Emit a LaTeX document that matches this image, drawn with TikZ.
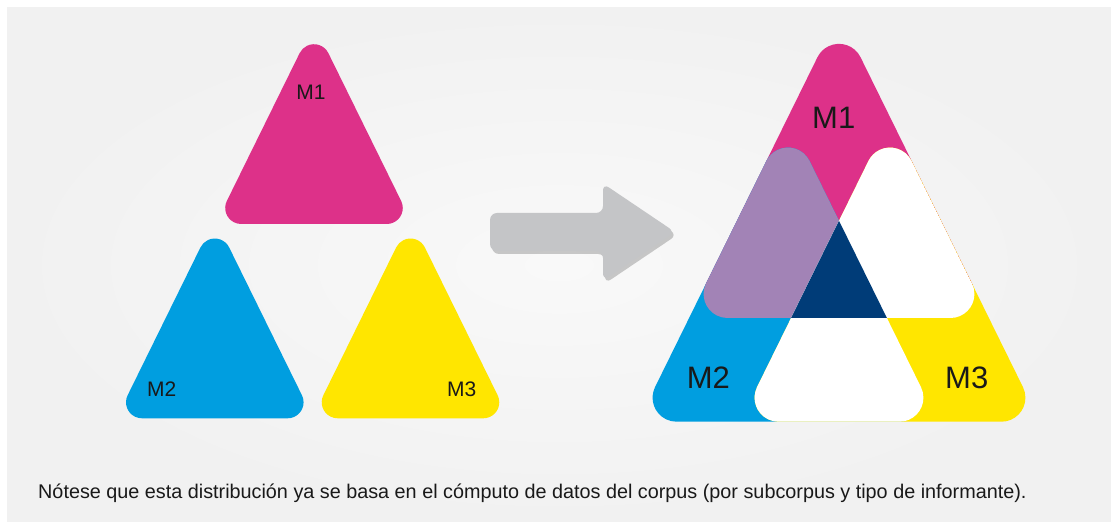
\documentclass[tikz,border=0pt]{standalone}
\usepackage{fontspec}
\setmainfont{Liberation Sans}
\usetikzlibrary{shadows}
\definecolor{mpink}{HTML}{DD3189}
\definecolor{mblue}{HTML}{009EE0}
\definecolor{myellow}{HTML}{FFE600}
\definecolor{mpurple}{HTML}{A283B6}
\definecolor{mnavy}{HTML}{003C78}
\definecolor{arrowgray}{HTML}{C4C5C7}
\definecolor{bgin}{HTML}{F9F9F9}
\definecolor{bgout}{HTML}{F1F1F1}
% rounded triangle: #1 options, #2 cx, #3 base y, #4 half base, #5 height, #6 radius
\newcommand\rtri[6]{%
  \pgfmathsetmacro\rtTh{atan(#5/#4)}%
  \pgfmathsetmacro\rtL{#6/tan(\rtTh/2)}%
  \pgfmathsetmacro\rtT{#6*tan(\rtTh)}%
  \pgfmathsetmacro\rtE{#4/cos(\rtTh)-\rtL-\rtT}%
  \pgfmathsetmacro\rtSx{#2-#4+\rtL}%
  \pgfmathsetmacro\rtB{2*#4-2*\rtL}%
  \path[#1] (\rtSx,#3) -- ++(\rtB,0)
    arc[start angle=-90,end angle=90-\rtTh,radius=#6]
    -- ++(180-\rtTh:\rtE)
    arc[start angle=90-\rtTh,end angle=90+\rtTh,radius=#6]
    -- ++(180+\rtTh:\rtE)
    arc[start angle=90+\rtTh,end angle=270,radius=#6] -- cycle;}
\tikzset{
  small/.style={font=\fontsize{21}{24}\selectfont, text=black!90, inner sep=0pt},
  big/.style={font=\fontsize{31}{36}\selectfont, text=black!90, inner sep=0pt},
  captxt/.style={font=\fontsize{19.8}{23}\selectfont, text=black!90, inner sep=0pt, anchor=base west}
}
\begin{document}
\begin{tikzpicture}[x=1pt,y=1pt]
\useasboundingbox (0,0) rectangle (1111,522);
\fill[white] (0,0) rectangle (1111,522);
\shade[inner color=bgin, outer color=bgout] (7,0) rectangle (1111,514);
% left: separate triangles
\rtri{fill=mpink}{314}{298}{98.5}{200}{16}
\rtri{fill=mblue}{214.8}{103.7}{98.5}{200}{16}
\rtri{fill=myellow}{410.5}{103.7}{98.5}{200}{16}
\node[small] (l1) at (311,430) {M1};
\node[small] (l2) at (161.7,133) {M2};
\node[small] (l3) at (461.7,133) {M3};
% arrow
\fill[arrowgray, rounded corners=7pt, drop shadow={shadow xshift=2pt, shadow yshift=-3pt, fill=black, opacity=0.2}]
  (490,271) -- (490,309) -- (603,309) -- (603,338.5) -- (675,290) -- (603,241.5) -- (603,271) -- cycle;
% right: overlapping triangles
\rtri{fill=mpink}{839}{204}{150}{304.5}{24}
\rtri{fill=mblue}{788}{100.3}{150}{304.5}{24}
\rtri{fill=myellow}{890}{100.3}{150}{304.5}{24}
\begin{scope}
  \rtri{clip}{839}{204}{150}{304.5}{24}
  \rtri{fill=mpurple}{788}{100.3}{150}{304.5}{24}
\end{scope}
\begin{scope}
  \rtri{clip}{839}{204}{150}{304.5}{24}
  \rtri{fill=white}{890}{100.3}{150}{304.5}{24}
\end{scope}
\begin{scope}
  \rtri{clip}{788}{100.3}{150}{304.5}{24}
  \rtri{fill=white}{890}{100.3}{150}{304.5}{24}
\end{scope}
\begin{scope}
  \rtri{clip}{839}{204}{150}{304.5}{24}
  \rtri{clip}{788}{100.3}{150}{304.5}{24}
  \rtri{fill=mnavy}{890}{100.3}{150}{304.5}{24}
\end{scope}
\node[big] (r1) at (833.7,403.7) {M1};
\node[big] (r2) at (708.3,144.5) {M2};
\node[big] (r3) at (966.7,144.5) {M3};
\node[captxt] (cap) at (38,23) {Nótese que esta distribución ya se basa en el cómputo de datos del corpus (por subcorpus y tipo de informante).};
\end{tikzpicture}
\end{document}
